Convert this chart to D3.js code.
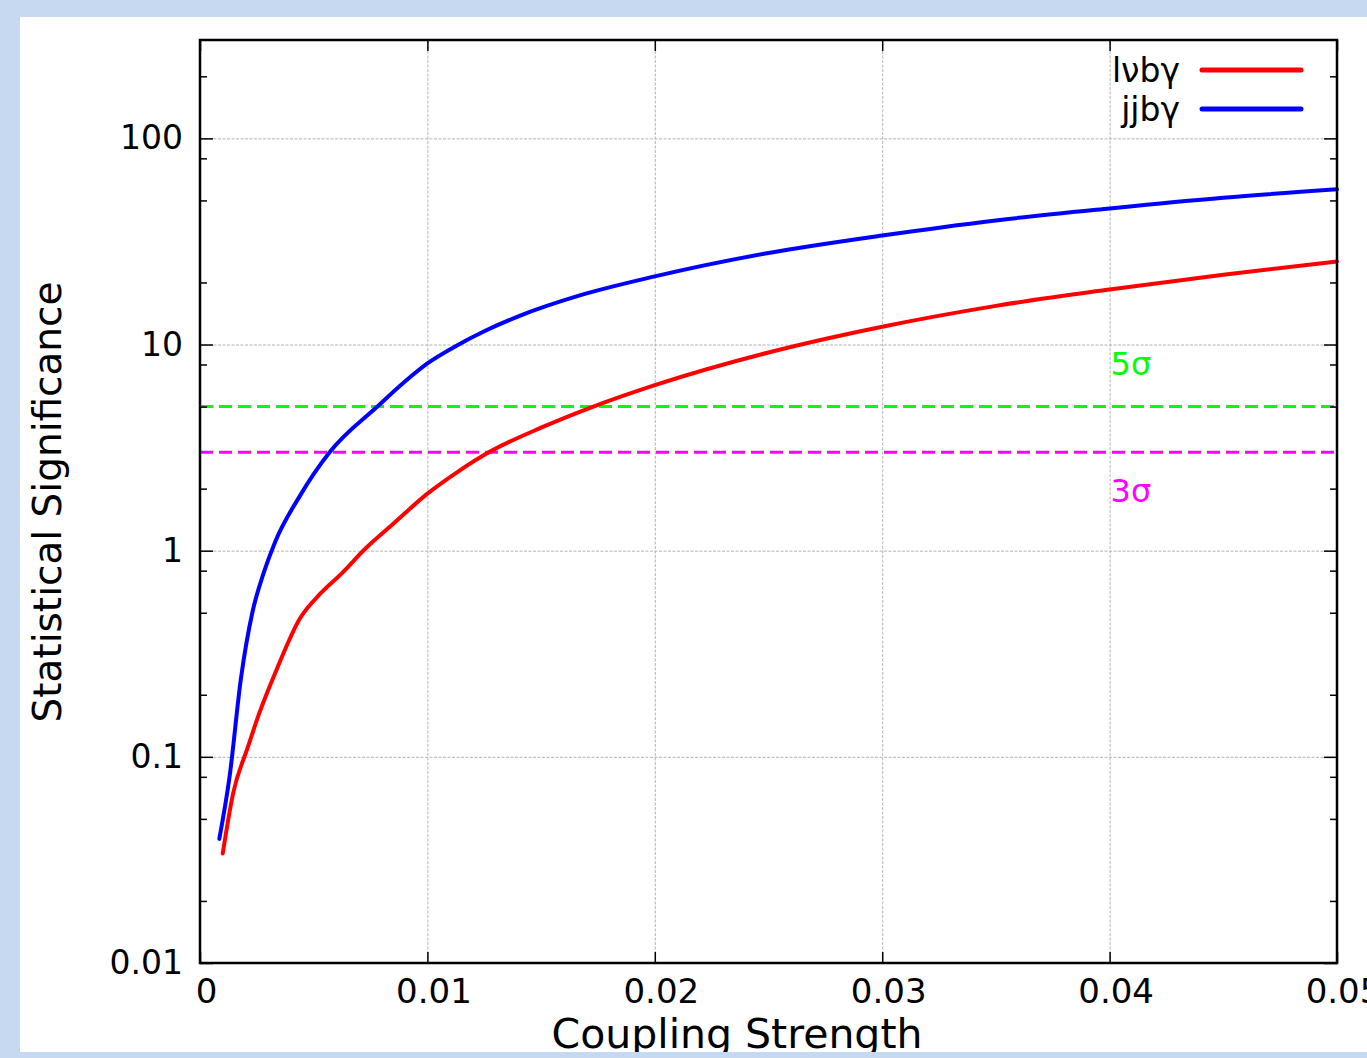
<!DOCTYPE html>
<html>
<head>
<meta charset="utf-8">
<script src="https://cdn.jsdelivr.net/npm/d3@7"></script>
<style>
  body { margin: 0; background: #c6d9f0; }
  svg { display: block; font-family: 'DejaVu Sans', sans-serif; }
  .tick line { stroke: #000; stroke-width: 1.5; }
  .grid .tick line { stroke: #b4b4b4; stroke-width: 1; stroke-dasharray: 3,1.5; }
</style>
</head>
<body>
<div id="graf"></div>
<script>
// datos
const couplingJJ = [0.00085, 0.0013, 0.0018, 0.0023, 0.0028, 0.0033, 0.0044, 0.0057, 0.0078, 0.0090, 0.0100, 0.0113, 0.0125, 0.0140, 0.0167, 0.0200, 0.0250, 0.0300, 0.0350, 0.0400, 0.0450, 0.0500]
const signifJJ = [0.040, 0.080, 0.24, 0.50, 0.78, 1.10, 1.85, 3.0, 5.0, 6.6, 8.1, 9.9, 11.6, 13.7, 17.3, 21.4, 27.8, 33.8, 40, 45.7, 51.5, 56.6]

const couplingLV = [0.0010, 0.00145, 0.0021, 0.0026, 0.0034, 0.0044, 0.0053, 0.0062, 0.0073, 0.0085, 0.0100, 0.0113, 0.0127, 0.0150, 0.0173, 0.0200, 0.0250, 0.0300, 0.0350, 0.0400, 0.0450, 0.0500]
const signifLV = [0.034, 0.066, 0.111, 0.162, 0.27, 0.47, 0.62, 0.77, 1.03, 1.35, 1.89, 2.4, 3.0, 3.95, 5.0, 6.35, 9.15, 12.2, 15.4, 18.5, 21.8, 25.3]

const seriesNames = ['lνbγ', 'jjbγ']
const seriesColors = ['#ff0000', '#0000ff']

const sigmaLevels = [5, 3]
const sigmaLabels = ['5σ', '3σ']
const sigmaColors = ['#00ff00', '#ff00ff']

const xTicks = [0, 0.01, 0.02, 0.03, 0.04, 0.05]
const yTicks = [0.01, 0.1, 1, 10, 100]
const yMinorTicks = [0.02, 0.05, 0.08, 0.2, 0.5, 0.8, 2, 5, 8, 20, 50, 80, 200]

const anchoTotal = 1367
const altoTotal = 1058

const margin = { top: 40, left: 200, right: 30, bottom: 95 }
const ancho = 1337 - margin.left
const alto = 963 - margin.top

const svg = d3.select('#graf')
  .append('svg')
  .attr('width', anchoTotal)
  .attr('height', altoTotal)

svg.append('rect')
  .attr('width', anchoTotal).attr('height', altoTotal)
  .attr('fill', '#c6d9f0')
svg.append('rect')
  .attr('x', 20).attr('y', 17)
  .attr('width', anchoTotal - 20).attr('height', 1052 - 17)
  .attr('fill', '#fff')

const g = svg.append('g')
  .attr('transform', `translate(${margin.left}, ${margin.top})`)

const x = d3.scaleLinear().domain([0, 0.05]).range([0, ancho])
const y = d3.scaleLog().domain([0.01, 300]).range([alto, 0])

// rejilla
g.append('g').attr('class', 'grid')
  .call(d3.axisLeft(y).tickValues(yTicks).tickSize(-ancho).tickFormat(''))
  .call(a => a.select('.domain').remove())
g.append('g').attr('class', 'grid')
  .attr('transform', `translate(0, ${alto})`)
  .call(d3.axisBottom(x).tickValues(xTicks).tickSize(-alto).tickFormat(''))
  .call(a => a.select('.domain').remove())

// lineas de sigma
sigmaLevels.forEach((s, i) => {
  g.append('line')
    .attr('x1', 0).attr('x2', ancho)
    .attr('y1', y(s)).attr('y2', y(s))
    .attr('stroke', sigmaColors[i])
    .attr('stroke-width', 3)
    .attr('stroke-dasharray', '13,6')
})
g.append('text').attr('x', x(0.04) + 1).attr('y', 375 - margin.top)
  .attr('fill', sigmaColors[0]).attr('font-size', 32).text(sigmaLabels[0])
g.append('text').attr('x', x(0.04) + 1).attr('y', 502 - margin.top)
  .attr('fill', sigmaColors[1]).attr('font-size', 32).text(sigmaLabels[1])

// ejes
const fmtY = d => d3.format('~g')(d)
const yAxisL = g.append('g')
  .call(d3.axisLeft(y).tickValues(yTicks).tickSize(-13).tickPadding(17).tickFormat(fmtY))
g.append('g')
  .call(d3.axisLeft(y).tickValues(yMinorTicks).tickSize(-7).tickFormat(''))
g.append('g').attr('transform', `translate(${ancho}, 0)`)
  .call(d3.axisRight(y).tickValues(yTicks).tickSize(-13).tickFormat(''))
g.append('g').attr('transform', `translate(${ancho}, 0)`)
  .call(d3.axisRight(y).tickValues(yMinorTicks).tickSize(-7).tickFormat(''))
const xAxisB = g.append('g').attr('transform', `translate(0, ${alto})`)
  .call(d3.axisBottom(x).tickValues(xTicks).tickSize(-11).tickPadding(16).tickFormat(d => d3.format('~g')(d)))
g.append('g')
  .call(d3.axisTop(x).tickValues(xTicks).tickSize(-11).tickFormat(''))

g.selectAll('.domain').remove()
yAxisL.selectAll('text').attr('font-size', 33).attr('fill', '#000').attr('font-family', 'DejaVu Sans')
xAxisB.selectAll('text').attr('font-size', 34).attr('fill', '#000').attr('font-family', 'DejaVu Sans')
  .attr('dx', 6)

// curvas
const linea = d3.line()
  .x(d => x(d[0]))
  .y(d => y(d[1]))
  .curve(d3.curveMonotoneX)

const datosLV = couplingLV.map((c, i) => [c, signifLV[i]])
const datosJJ = couplingJJ.map((c, i) => [c, signifJJ[i]])

g.append('path').datum(datosLV)
  .attr('d', linea).attr('fill', 'none')
  .attr('stroke', seriesColors[0]).attr('stroke-width', 4)
  .attr('stroke-linejoin', 'round').attr('stroke-linecap', 'round')
g.append('path').datum(datosJJ)
  .attr('d', linea).attr('fill', 'none')
  .attr('stroke', seriesColors[1]).attr('stroke-width', 4)
  .attr('stroke-linejoin', 'round').attr('stroke-linecap', 'round')

// marco
g.append('rect')
  .attr('width', ancho).attr('height', alto)
  .attr('fill', 'none').attr('stroke', '#000').attr('stroke-width', 2.5)

// leyenda
seriesNames.forEach((n, i) => {
  const ly = [70, 109][i] - margin.top
  g.append('text')
    .attr('x', 1180 - margin.left).attr('y', ly + 12)
    .attr('text-anchor', 'end').attr('font-size', 33)
    .text(n)
  g.append('line')
    .attr('x1', 1202 - margin.left).attr('x2', 1301 - margin.left)
    .attr('y1', ly).attr('y2', ly)
    .attr('stroke', seriesColors[i]).attr('stroke-width', 5)
    .attr('stroke-linecap', 'round')
})

// titulos
svg.append('text')
  .attr('transform', 'translate(61, 502) rotate(-90)')
  .attr('text-anchor', 'middle').attr('font-size', 39)
  .text('Statistical Significance')
svg.append('text')
  .attr('x', 737).attr('y', 1048)
  .attr('text-anchor', 'middle').attr('font-size', 41)
  .text('Coupling Strength')

// franja inferior
svg.append('rect')
  .attr('x', 0).attr('y', 1052)
  .attr('width', anchoTotal).attr('height', altoTotal - 1052)
  .attr('fill', '#c6d9f0')
</script>
</body>
</html>
